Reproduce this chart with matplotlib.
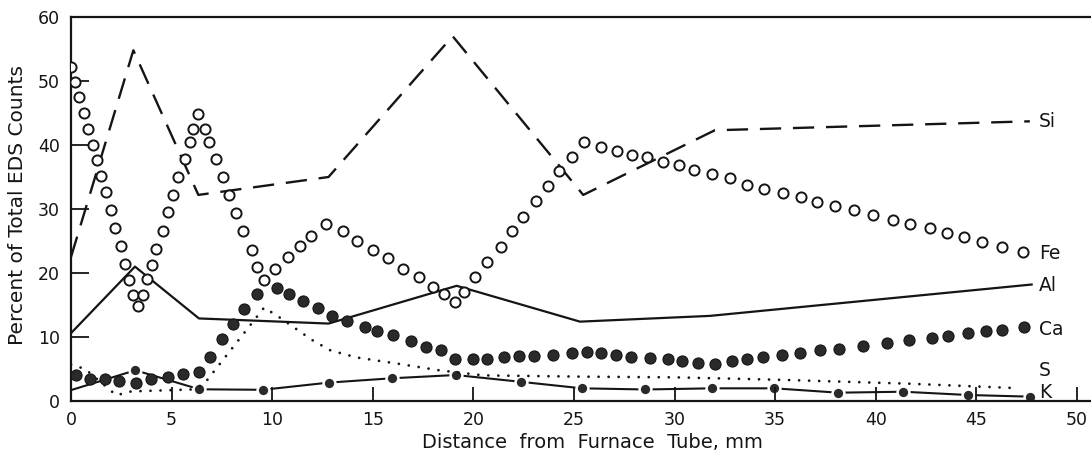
import matplotlib
matplotlib.use("Agg")
import matplotlib.pyplot as plt

# Fe, open circles
fe_x = [0.0, 0.21, 0.41, 0.65, 0.86, 1.08, 1.28, 1.49, 1.74, 1.99, 2.19, 2.47, 2.68, 2.9, 3.1,
        3.35, 3.6, 3.78, 4.01, 4.22, 4.56, 4.84, 5.08, 5.33, 5.67, 5.91, 6.08, 6.33, 6.67, 6.86,
        7.21, 7.54, 7.84, 8.2, 8.56, 9.01, 9.23, 9.59, 10.14, 10.8, 11.38, 11.93, 12.67, 13.5, 14.23,
        14.99, 15.77, 16.52, 17.3, 18.0, 18.55, 19.09, 19.53, 20.08, 20.69, 21.36, 21.9, 22.48, 23.1, 23.69,
        24.27, 24.88, 25.51, 26.32, 27.12, 27.9, 28.61, 29.44, 30.2, 30.98, 31.84, 32.75, 33.58, 34.46, 35.4,
        36.28, 37.09, 37.97, 38.92, 39.88, 40.87, 41.7, 42.69, 43.52, 44.4, 45.3, 46.3, 47.33]
fe_y = [52.2, 49.9, 47.5, 45.0, 42.5, 40.0, 37.7, 35.2, 32.7, 29.8, 27.1, 24.2, 21.4, 18.9, 16.6,
        14.8, 16.6, 19.0, 21.3, 23.7, 26.5, 29.5, 32.2, 35.0, 37.8, 40.5, 42.5, 44.8, 42.5, 40.5,
        37.8, 35.0, 32.2, 29.4, 26.6, 23.6, 21.0, 18.9, 20.7, 22.5, 24.2, 25.8, 27.6, 26.6, 25.0,
        23.6, 22.3, 20.7, 19.3, 17.8, 16.7, 15.5, 17.1, 19.4, 21.7, 24.1, 26.5, 28.8, 31.3, 33.6,
        35.9, 38.1, 40.4, 39.7, 39.1, 38.5, 38.1, 37.4, 36.8, 36.1, 35.5, 34.8, 33.8, 33.2, 32.5,
        31.8, 31.1, 30.5, 29.8, 29.1, 28.3, 27.6, 26.96, 26.2, 25.6, 24.9, 24.1, 23.3]

# Ca, filled circles
ca_x = [0.25, 0.94, 1.7, 2.4, 3.23, 4.0, 4.8, 5.58, 6.38, 6.92, 7.52, 8.07, 8.61, 9.23, 10.22,
        10.85, 11.52, 12.3, 12.96, 13.73, 14.61, 15.22, 16.02, 16.88, 17.64, 18.37, 19.09, 19.96, 20.66, 21.52,
        22.28, 23.03, 23.97, 24.88, 25.66, 26.34, 27.08, 27.83, 28.78, 29.66, 30.35, 31.18, 32.0, 32.84, 33.58,
        34.4, 35.32, 36.23, 37.23, 38.19, 39.38, 40.57, 41.65, 42.78, 43.6, 44.57, 45.46, 46.26, 47.37]
ca_y = [4.06, 3.44, 3.4, 3.2, 2.8, 3.4, 3.8, 4.2, 4.6, 6.8, 9.7, 12.1, 14.3, 16.7, 17.7,
        16.7, 15.7, 14.6, 13.3, 12.5, 11.6, 10.9, 10.3, 9.4, 8.5, 7.9, 6.5, 6.5, 6.6, 6.8,
        7.0, 7.0, 7.2, 7.5, 7.7, 7.5, 7.2, 6.9, 6.7, 6.5, 6.3, 6.0, 5.8, 6.3, 6.5,
        6.8, 7.2, 7.5, 8.0, 8.2, 8.6, 9.0, 9.5, 9.9, 10.2, 10.6, 10.9, 11.1, 11.5]

# Si, long dashes
si_x = [0, 3.1, 6.33, 12.8, 18.97, 25.46, 32.0, 47.66]
si_y = [22.5, 54.8, 32.2, 35.0, 57.0, 32.2, 42.3, 43.7]

# Al, solid
al_x = [0, 3.18, 6.36, 12.8, 19.17, 25.3, 31.76, 47.75]
al_y = [10.6, 21.0, 12.9, 12.1, 18.0, 12.4, 13.3, 18.2]

# S, dotted
s_x = [0, 0.7, 2.25, 3.0, 6.0, 6.6, 9.6, 10.3, 12.0, 12.9, 14.2, 16.3, 18.3, 20.5, 25.5, 30.0, 35.4, 41.7, 47.1]
s_y = [5.7, 5.0, 0.9, 1.5, 1.8, 2.6, 14.6, 13.2, 9.5, 7.9, 6.8, 5.8, 4.8, 4.0, 3.8, 3.7, 3.3, 2.7, 2.0]

# K, line with filled circles
k_x = [0, 3.2, 6.38, 9.53, 12.8, 15.94, 19.12, 22.35, 25.4, 28.55, 31.87, 34.96, 38.14, 41.37, 44.57, 47.66]
k_y = [1.7, 4.8, 1.83, 1.75, 2.87, 3.55, 4.06, 3.0, 1.98, 1.8, 1.98, 1.98, 1.3, 1.45, 0.94, 0.68]

names = ["Si", "Fe", "Al", "Ca", "S", "K"]
name_y = [43.6, 23.1, 18.1, 11.1, 4.8, 1.25]

ink = "#151515"
plt.rcParams["font.family"] = "DejaVu Sans"

fig = plt.figure(figsize=(10.91, 4.63), dpi=100)
ax = fig.add_axes([71 / 1091, 62 / 463, 1020 / 1091, 384 / 463])

ax.plot(k_x, k_y, color=ink, lw=1.5, marker="o", markersize=8.5, markerfacecolor="#2a2a2a",
        markeredgecolor="white", markeredgewidth=1.8, markevery=list(range(1, len(k_x))), zorder=1.5)
ax.plot(al_x, al_y, color=ink, lw=1.6, zorder=2)
ax.plot(si_x, si_y, color=ink, lw=1.7, linestyle=(0, (9, 5)), zorder=2)
ax.plot(s_x, s_y, color=ink, lw=2.0, linestyle=(0, (0.01, 3.6)), dash_capstyle="round", zorder=2)
ax.plot(ca_x, ca_y, linestyle="none", marker="o", markersize=8, markerfacecolor="#2a2a2a",
        markeredgecolor=ink, markeredgewidth=0.8, zorder=3)
ax.plot(fe_x, fe_y, linestyle="none", marker="o", markersize=7.3, markerfacecolor="white",
        markeredgecolor=ink, markeredgewidth=1.4, zorder=3)

for n, yv in zip(names, name_y):
    ax.text(48.1, yv, n, fontsize=13.5, color=ink, ha="left", va="center")

ax.set_xlim(0, 50.7)
ax.set_ylim(0, 60)
ax.set_xticks(range(0, 51, 5))
ax.set_yticks(range(0, 61, 10))
ax.tick_params(axis="x", direction="in", length=10, width=1.3, pad=7, labelsize=12.5, colors=ink)
ax.tick_params(axis="y", direction="in", length=13, width=1.3, pad=8, labelsize=12.5, colors=ink)
ax.spines["right"].set_visible(False)
for sp in ["left", "bottom", "top"]:
    ax.spines[sp].set_linewidth(1.6)
    ax.spines[sp].set_color(ink)

ax.set_xlabel("Distance  from  Furnace  Tube, mm", fontsize=14, color=ink)
ax.set_ylabel("Percent of Total EDS Counts", fontsize=14.5, color=ink)
ax.xaxis.set_label_coords(0.511, -0.083)
ax.yaxis.set_label_coords(-0.043, 0.51)

fig.savefig("out.png", dpi=100)
